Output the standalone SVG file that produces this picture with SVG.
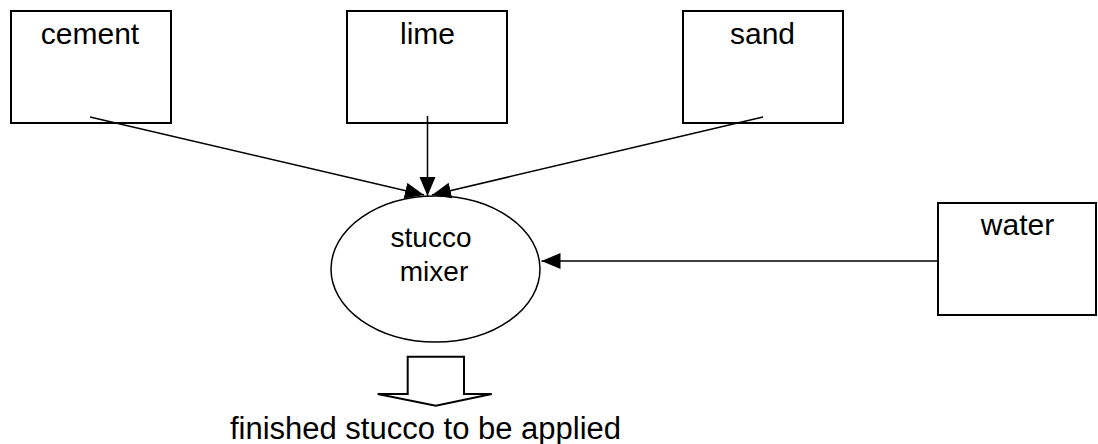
<svg xmlns="http://www.w3.org/2000/svg" width="1098" height="444" viewBox="0 0 1098 444">
  <style>
    .box { fill: #ffffff; stroke: #000000; stroke-width: 2; }
    .oval { fill: #ffffff; stroke: #000000; stroke-width: 1.5; }
    .link { fill: none; stroke: #000000; stroke-width: 1.5; }
    .label { font-family: "Liberation Sans", Arial, sans-serif; font-size: 30px; fill: #000000; text-anchor: middle; }
  </style>
  <defs>
    <marker id="arrow" markerUnits="userSpaceOnUse" markerWidth="20" markerHeight="17" refX="19" refY="8" orient="auto">
      <path d="M0,0 L19,8 L0,16 Z" fill="#000000"/>
    </marker>
  </defs>
  <rect width="1098" height="444" fill="#ffffff"/>

  <!-- ingredient boxes -->
  <g id="cement">
    <rect class="box" x="11" y="11" width="160" height="112"/>
    <text class="label" x="90" y="44">cement</text>
  </g>
  <g id="lime">
    <rect class="box" x="347" y="11" width="160" height="112"/>
    <text class="label" x="427.5" y="44">lime</text>
  </g>
  <g id="sand">
    <rect class="box" x="683" y="11" width="160" height="112"/>
    <text class="label" x="762.5" y="44">sand</text>
  </g>
  <g id="water">
    <rect class="box" x="938" y="203" width="158" height="112"/>
    <text class="label" x="1017.5" y="235">water</text>
  </g>

  <!-- mixer -->
  <g id="stucco-mixer">
    <ellipse class="oval" cx="435.5" cy="269" rx="104.5" ry="73"/>
    <text class="label" x="431" y="247" style="font-size:28px">stucco</text>
    <text class="label" x="434" y="281" style="font-size:28px">mixer</text>
  </g>

  <!-- output block arrow and caption -->
  <g id="output">
    <polygon class="box" points="407.7,356.7 464,356.7 464,394 491.7,394 435.8,405.7 377.7,394 407.7,394"/>
    <text class="label" x="425.5" y="439" style="font-size:31px">finished stucco to be applied</text>
  </g>

  <g id="connectors">
    <line class="link" x1="90" y1="117" x2="424" y2="195" marker-end="url(#arrow)"/>
    <line class="link" x1="427.5" y1="116" x2="427.5" y2="196" marker-end="url(#arrow)"/>
    <line class="link" x1="763" y1="117" x2="432" y2="195" marker-end="url(#arrow)"/>
    <line class="link" x1="938" y1="261" x2="541.5" y2="261" marker-end="url(#arrow)"/>
  </g>
</svg>
